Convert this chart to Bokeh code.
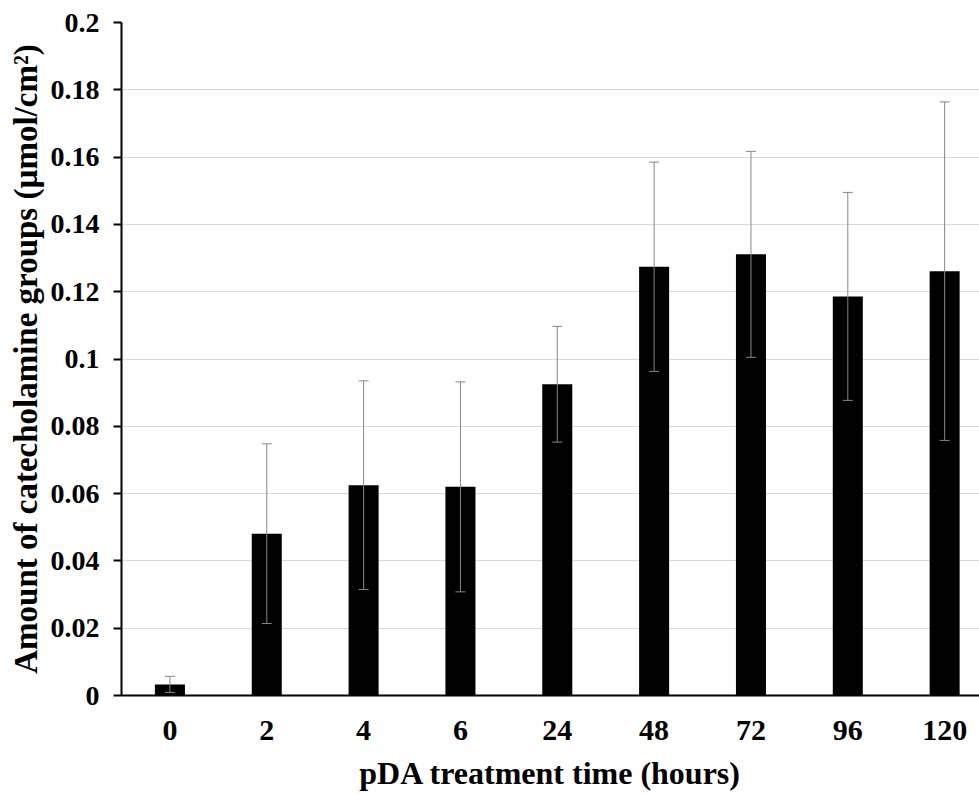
from bokeh.plotting import figure
from bokeh.models import (ColumnDataSource, Whisker, TeeHead, FixedTicker,
                          CustomJSTickFormatter, Range1d)
from bokeh.embed import file_html
from bokeh.resources import INLINE

categories = ["0", "2", "4", "6", "24", "48", "72", "96", "120"]
means = [0.0033, 0.0481, 0.0625, 0.0620, 0.0925, 0.1274, 0.1311, 0.1186, 0.1261]
errors = [0.0024, 0.0267, 0.0310, 0.0312, 0.0172, 0.0311, 0.0306, 0.0309, 0.0503]
y_ticks = [0, 0.02, 0.04, 0.06, 0.08, 0.1, 0.12, 0.14, 0.16, 0.18, 0.2]

xs = list(range(len(categories)))
src = ColumnDataSource(dict(
    x=xs, top=means,
    upper=[m + e for m, e in zip(means, errors)],
    lower=[m - e for m, e in zip(means, errors)],
))

FONT = "Liberation Serif"

p = figure(width=979, height=794, output_backend="svg", toolbar_location=None,
           x_range=Range1d(-0.5, 8.36), y_range=Range1d(0, 0.2),
           min_border_left=121, min_border_right=0, min_border_top=22,
           min_border_bottom=99)
p.outline_line_color = None
p.background_fill_color = "white"

p.vbar(x="x", top="top", width=0.31, bottom=0, source=src,
       fill_color="black", line_color=None)

w = Whisker(base="x", upper="upper", lower="lower", source=src,
            line_color="#868686", line_width=1, level="overlay",
            upper_head=TeeHead(size=10, line_color="#868686", line_width=1),
            lower_head=TeeHead(size=10, line_color="#868686", line_width=1))
p.add_layout(w)

# x axis
p.xaxis.ticker = FixedTicker(ticks=xs)
p.xaxis.major_label_overrides = {i: c for i, c in enumerate(categories)}
p.xaxis.major_tick_line_color = None
p.xaxis.major_tick_out = 0
p.xaxis.major_tick_in = 0
p.xaxis.minor_tick_line_color = None
p.xaxis.axis_line_color = "black"
p.xaxis.axis_line_width = 2
p.xaxis.major_label_text_font = FONT
p.xaxis.major_label_text_font_style = "bold"
p.xaxis.major_label_text_font_size = "30px"
p.xaxis.major_label_text_color = "black"
p.xaxis.major_label_standoff = 25
p.xaxis.axis_label = "pDA treatment time (hours)"
p.xaxis.axis_label_text_font = FONT
p.xaxis.axis_label_text_font_style = "bold"
p.xaxis.axis_label_text_font_size = "32px"
p.xaxis.axis_label_text_color = "black"
p.xaxis.axis_label_standoff = 12

# y axis
p.yaxis.ticker = FixedTicker(ticks=y_ticks)
p.yaxis.formatter = CustomJSTickFormatter(
    code="return tick.toFixed(2).replace(/0+$/, '').replace(/\\.$/, '');")
p.yaxis.major_tick_out = 8
p.yaxis.major_tick_in = 0
p.yaxis.major_tick_line_width = 2
p.yaxis.major_tick_line_color = "black"
p.yaxis.minor_tick_line_color = None
p.yaxis.axis_line_color = "black"
p.yaxis.axis_line_width = 2
p.yaxis.major_label_text_font = FONT
p.yaxis.major_label_text_font_style = "bold"
p.yaxis.major_label_text_font_size = "28px"
p.yaxis.major_label_text_color = "black"
p.yaxis.major_label_standoff = 14
p.yaxis.axis_label = "Amount of catecholamine groups (µmol/cm²)"
p.yaxis.axis_label_text_font = FONT
p.yaxis.axis_label_text_font_style = "bold"
p.yaxis.axis_label_text_font_size = "33px"
p.yaxis.axis_label_text_color = "black"
p.yaxis.axis_label_standoff = 4

p.xgrid.grid_line_color = None
p.ygrid.grid_line_color = "#d9d9d9"
p.ygrid.grid_line_width = 1

open("out.html", "w").write(file_html(p, INLINE))
